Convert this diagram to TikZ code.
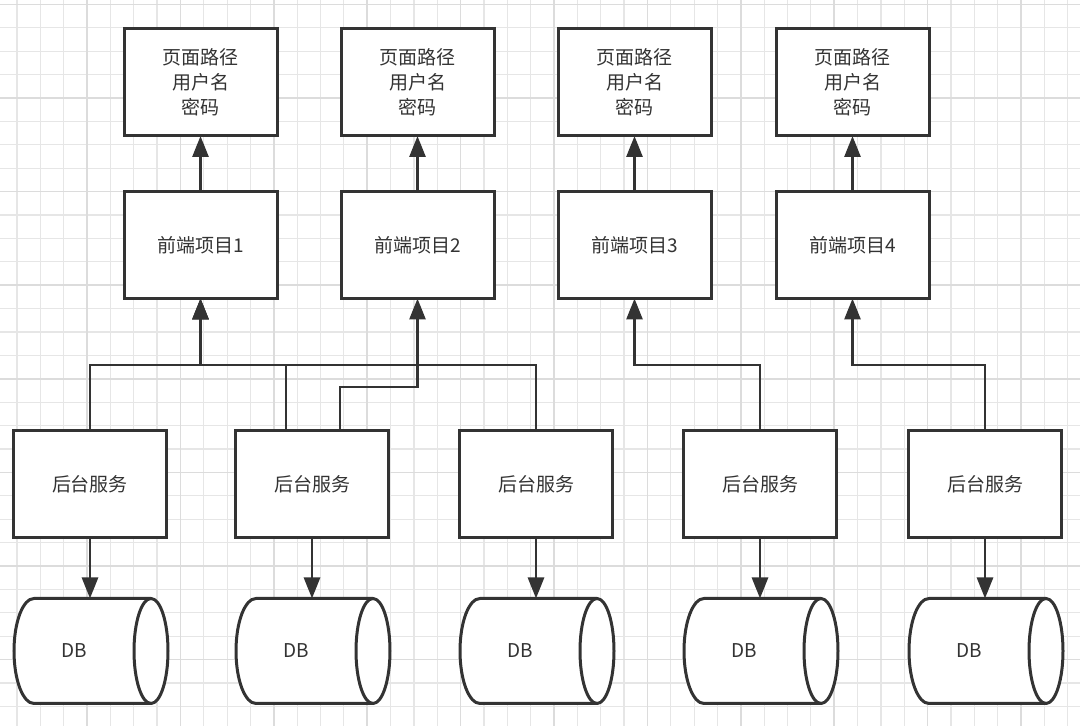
\documentclass[tikz,border=0pt]{standalone}
\usepackage{fontspec}
\setmainfont{Noto Sans CJK SC}
\usetikzlibrary{arrows.meta,calc}
\definecolor{ink}{HTML}{333333}
\definecolor{gridminor}{HTML}{E6E6E6}
\definecolor{gridmajor}{HTML}{DCDCDC}
\tikzstyle{box}=[draw=ink, line width=3pt, fill=white, minimum width=153pt, minimum height=107pt, inner sep=0pt, outer sep=0pt, align=center, text=ink, font=\fontsize{19}{25}\selectfont]
\tikzstyle{dbbody}=[box, draw=none, fill=none, minimum width=120pt, minimum height=105pt]
\tikzstyle{link}=[draw=ink, line width=2.8pt, -{Triangle[length=21pt,width=16pt]}]
\newcommand{\dbcyl}[1]{
 \draw[ink, line width=3pt, fill=white] ($ (#1.north west) + (20,0) $) -- ($ (#1.north east) + (17,0) $) arc (90:-90:17pt and 52.5pt) -- ($ (#1.south west) + (20,0) $) arc (270:90:20pt and 52.5pt) -- cycle;
 \draw[ink, line width=3pt] ($ (#1.north east) + (17,0) $) arc (90:270:17pt and 52.5pt);
}

\begin{document}
\begin{tikzpicture}[x=1pt, y=1pt]
 \useasboundingbox (0,0) rectangle (1080,726);
 \fill[white] (0,0) rectangle (1080,726);
%
 \begin{scope}
 \clip (0,0) rectangle (1080,726);
 \foreach \k in {-3,...,42} \draw[gridminor, line width=1.2pt] ({87+23.35*\k},0) -- ++(0,726);
 \foreach \k in {-4,...,27} \draw[gridminor, line width=1.2pt] (0,{628-23.4*\k}) -- ++(1080,0);
 \foreach \k in {-1,...,10} \draw[gridmajor, line width=1.5pt] ({87+93.4*\k},0) -- ++(0,726);
 \foreach \k in {-1,...,6} \draw[gridmajor, line width=1.5pt] (0,{628-93.6*\k}) -- ++(1080,0);
 \end{scope}
%
 \coordinate (bus) at (0,361);
 \coordinate (step) at (0,339);
%
 \node[box] (cred1) at (200.5,643.5) {页面路径\\用户名\\密码};
 \node[box] (cred2) at (417.5,643.5) {页面路径\\用户名\\密码};
 \node[box] (cred3) at (634.5,643.5) {页面路径\\用户名\\密码};
 \node[box] (cred4) at (852.5,643.5) {页面路径\\用户名\\密码};
%
 \node[box] (fe1) at (200.5,481) {前端项目1};
 \node[box] (fe2) at (417.5,481) {前端项目2};
 \node[box] (fe3) at (634.5,481) {前端项目3};
 \node[box] (fe4) at (852.5,481) {前端项目4};
%
 \node[box] (svc1) at (90,241.5) {后台服务};
 \node[box] (svc2) at (312,241.5) {后台服务};
 \node[box] (svc3) at (536,241.5) {后台服务};
 \node[box] (svc4) at (760,241.5) {后台服务};
 \node[box] (svc5) at (985,241.5) {后台服务};
%
 \foreach \i/\x in {1/74,2/296,3/520,4/744,5/969} {
 \node[dbbody] (db\i) at (\x,75) {};
 \dbcyl{db\i}
 \node[dbbody] at (db\i) {DB};
 }
%
 \foreach \i in {1,...,4} \draw[link] (fe\i.north) -- (cred\i.south);
 \foreach \i in {1,...,5} \draw[link] (svc\i.south) -- (svc\i.south |- db\i.north);
%
 \draw[link] (svc1.north) |- (fe1.south |- bus) -- (fe1.south);
 \draw[link] ($ (svc2.north) + (-26,0) $) |- (fe1.south |- bus) -- (fe1.south);
 \draw[link] ($ (svc2.north) + (28,0) $) |- (fe2.south |- step) -- (fe2.south);
 \draw[link] (svc3.north) |- (fe1.south |- bus) -- (fe1.south);
 \draw[link] (svc4.north) |- (fe3.south |- bus) -- (fe3.south);
 \draw[link] (svc5.north) |- (fe4.south |- bus) -- (fe4.south);
\end{tikzpicture}
\end{document}
